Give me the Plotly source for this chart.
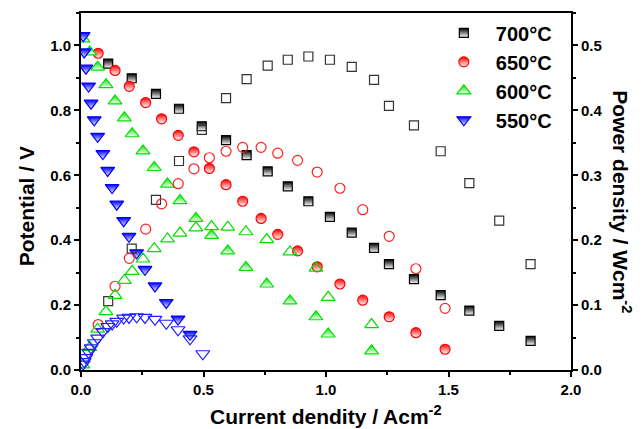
import plotly.graph_objects as go

# ---------------- data ----------------
current_700 = [0.111, 0.207, 0.306, 0.400, 0.493, 0.592, 0.676, 0.762, 0.844, 0.928,
               1.016, 1.105, 1.196, 1.257, 1.359, 1.468, 1.585, 1.707, 1.835]
potential_700 = [0.944, 0.899, 0.851, 0.805, 0.751, 0.708, 0.662, 0.612, 0.566, 0.520,
                 0.472, 0.423, 0.376, 0.326, 0.280, 0.231, 0.183, 0.136, 0.090]
power_700 = [0.106, 0.187, 0.262, 0.322, 0.370, 0.419, 0.448, 0.469, 0.478, 0.483,
             0.478, 0.467, 0.447, 0.407, 0.377, 0.337, 0.288, 0.230, 0.163]

current_650 = [0.070, 0.139, 0.197, 0.264, 0.329, 0.397, 0.461, 0.524, 0.592, 0.660,
               0.735, 0.803, 0.884, 0.964, 1.057, 1.150, 1.258, 1.367, 1.486]
potential_650 = [0.976, 0.923, 0.874, 0.824, 0.774, 0.723, 0.672, 0.621, 0.571, 0.520,
                 0.467, 0.418, 0.367, 0.318, 0.265, 0.215, 0.164, 0.115, 0.064]
power_650 = [0.070, 0.129, 0.172, 0.217, 0.256, 0.287, 0.310, 0.327, 0.337, 0.343,
             0.343, 0.334, 0.323, 0.305, 0.280, 0.247, 0.206, 0.156, 0.095]

current_600 = [0.008, 0.036, 0.068, 0.102, 0.139, 0.177, 0.209, 0.253, 0.299, 0.353,
               0.404, 0.469, 0.533, 0.599, 0.673, 0.758, 0.853, 0.959, 1.009, 1.186]
potential_600 = [1.020, 0.980, 0.933, 0.879, 0.829, 0.777, 0.728, 0.675, 0.624, 0.573,
                 0.522, 0.467, 0.415, 0.367, 0.316, 0.265, 0.213, 0.164, 0.111, 0.059]
power_600 = [0.008, 0.035, 0.063, 0.090, 0.115, 0.138, 0.152, 0.171, 0.187, 0.202,
             0.211, 0.219, 0.221, 0.220, 0.213, 0.201, 0.182, 0.157, 0.112, 0.070]

current_550 = [0.009, 0.013, 0.020, 0.031, 0.041, 0.054, 0.068, 0.089, 0.109, 0.127,
               0.146, 0.174, 0.196, 0.227, 0.261, 0.302, 0.348, 0.396, 0.445]
potential_550 = [1.030, 0.980, 0.930, 0.875, 0.822, 0.771, 0.720, 0.667, 0.615, 0.562,
                 0.511, 0.460, 0.412, 0.361, 0.310, 0.259, 0.208, 0.157, 0.110]
current_550_power = [0.009, 0.013, 0.020, 0.031, 0.041, 0.054, 0.068, 0.089, 0.109, 0.127,
                     0.146, 0.174, 0.196, 0.227, 0.261, 0.302, 0.348, 0.396, 0.445, 0.497]
power_550 = [0.009, 0.013, 0.019, 0.027, 0.034, 0.042, 0.049, 0.059, 0.067, 0.071,
             0.075, 0.080, 0.081, 0.082, 0.081, 0.078, 0.072, 0.062, 0.048, 0.025]

labels = ["700\u00b0C", "650\u00b0C", "600\u00b0C", "550\u00b0C"]
x_ticks = [0.0, 0.5, 1.0, 1.5, 2.0]

# ---------------- styling ----------------
FONT = "Arial, 'Liberation Sans', sans-serif"
series = [
    (labels[0], current_700, potential_700, current_700, power_700, "#000000", "#333333", "square", "square-open", 9),
    (labels[1], current_650, potential_650, current_650, power_650, "#ff0000", "#ff2020", "circle", "circle-open", 10),
    (labels[2], current_600, potential_600, current_600, power_600, "#00e000", "#00e000", "triangle-up", "triangle-up-open", 12),
    (labels[3], current_550, potential_550, current_550_power, power_550, "#0000ff", "#2020ff", "triangle-down", "triangle-down-open", 12),
]

fig = go.Figure()

# power density (open symbols, right axis)
for name, xv, yv, xp, yp, col, col_open, sym, sym_open, size in series:
    fig.add_trace(go.Scatter(
        x=xp, y=yp, mode="markers", yaxis="y2", showlegend=False,
        marker=dict(symbol=sym_open, size=size, color=col_open, line=dict(color=col_open, width=1.2)),
        hoverinfo="skip",
    ))

# potential (half-filled symbols, left axis)
for name, xv, yv, xp, yp, col, col_open, sym, sym_open, size in series:
    fig.add_trace(go.Scatter(
        x=xv, y=yv, mode="markers", name=name,
        marker=dict(symbol=sym, size=size, color=col,
                    gradient=dict(type="vertical", color="#ffffff"),
                    line=dict(color=col, width=1.2)),
        hoverinfo="skip",
    ))

axis_common = dict(
    showline=True, linecolor="black", linewidth=2,
    ticks="outside", ticklen=5, tickwidth=2, tickcolor="black",
    showgrid=False, zeroline=False,
    tickfont=dict(family=FONT, size=15, color="black", weight="bold"),
)

fig.update_layout(
    width=642, height=429,
    margin=dict(l=81, r=71, t=13, b=59),
    paper_bgcolor="white", plot_bgcolor="white",
    xaxis=dict(range=[0, 2.0], tickvals=x_ticks, tickformat=".1f", mirror=True,
               minor=dict(dtick=0.25, ticklen=3, tickwidth=2, tickcolor="black", ticks="outside"),
               **axis_common),
    yaxis=dict(range=[0, 1.1], dtick=0.2, tickformat=".1f",
               minor=dict(dtick=0.1, ticklen=3, tickwidth=2, tickcolor="black", ticks="outside"),
               **axis_common),
    yaxis2=dict(range=[0, 0.55], dtick=0.1, tickformat=".1f", overlaying="y", side="right",
                minor=dict(dtick=0.05, ticklen=3, tickwidth=2, tickcolor="black", ticks="outside"),
                **axis_common),
    legend=dict(x=0.716, y=0.999, xanchor="left", yanchor="top",
                bgcolor="rgba(0,0,0,0)", borderwidth=0, itemwidth=54,
                font=dict(family=FONT, size=20, color="black", weight="bold")),
    showlegend=True,
    annotations=[
        dict(text="Current dendity / Acm<sup>-2</sup>", xref="paper", yref="paper",
             x=0.5, y=-0.126, xanchor="center", yanchor="middle", showarrow=False,
             font=dict(family=FONT, size=21, color="black", weight="bold")),
        dict(text="Potential / V", xref="paper", yref="paper",
             x=-0.112, y=0.459, xanchor="center", yanchor="middle", showarrow=False, textangle=-90,
             font=dict(family=FONT, size=21, color="black", weight="bold")),
        dict(text="Power density / Wcm<sup>-2</sup>", xref="paper", yref="paper",
             x=1.104, y=0.47, xanchor="center", yanchor="middle", showarrow=False, textangle=90,
             font=dict(family=FONT, size=21, color="black", weight="bold")),
    ],
)

fig.write_html("out.html",
               config={"displayModeBar": False, "staticPlot": True},
               post_script="document.body.style.margin='0';document.body.style.overflow='hidden';")
